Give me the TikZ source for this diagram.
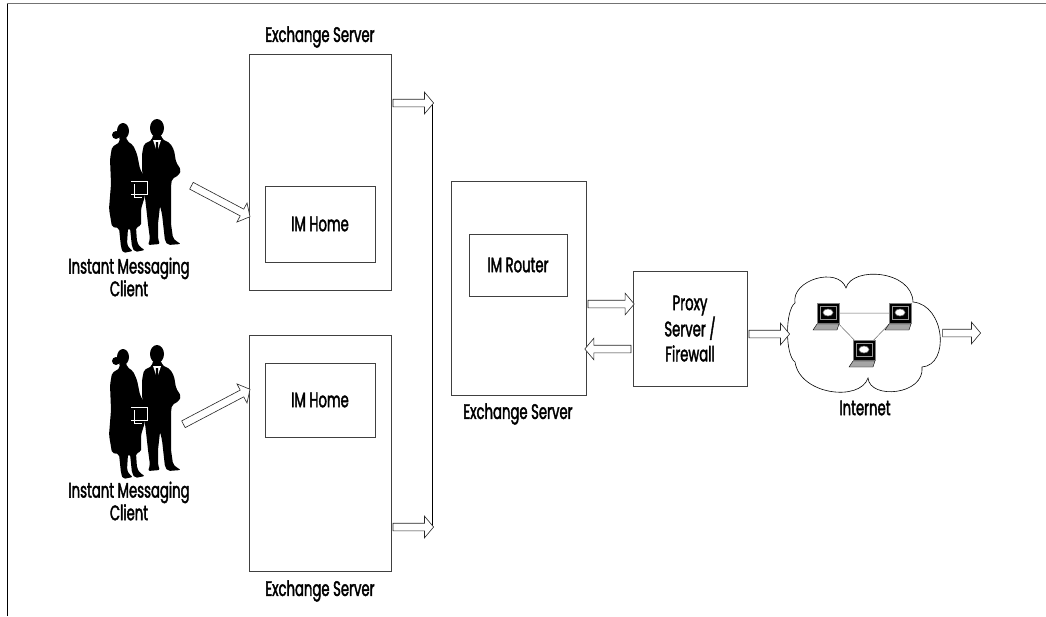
\documentclass[tikz,border=0pt]{standalone}
\usepackage{fontspec}
\setmainfont{Poppins}[FakeStretch=0.63, FakeBold=1.8]
\usetikzlibrary{positioning,calc,shapes.arrows}
\newcommand{\lblfont}{\fontsize{21}{25}\selectfont}
\newcommand{\blockarrow}[2]{%
  \path let \p1=($(#2)-(#1)$), \n1={veclen(\x1,\y1)}, \n2={atan2(\y1,\x1)} in
    node[harrow, minimum height=\n1, rotate=\n2] at ($(#1)!0.5!(#2)$) {};}

\begin{document}
\begin{tikzpicture}[x=1pt, y=-1pt,
        box/.style={draw=black!75, line width=0.8pt, align=center, font=\lblfont},
        server/.style={box, minimum width=142pt, minimum height=236pt},
        imbox/.style={box, minimum width=110pt, minimum height=75pt},
        lbl/.style={font=\lblfont, align=center},
        harrow/.style={single arrow, draw=black!85, line width=0.6pt, fill=white,
            inner xsep=0pt, inner ysep=3.5pt, single arrow head extend=7pt,
            single arrow tip angle=100},
        link/.style={draw=black!60, line width=0.5pt},
        laptop/.pic={
            \draw[black!50, fill=black, line width=0.4pt] (-11,-10) rectangle (11,10);
            \draw[black!40, line width=0.4pt] (-8,-7) rectangle (8,6);
            \draw[black!50, fill=white, line width=0.6pt] (0,-0.5) ellipse [x radius=5pt, y radius=3.5pt];
            \draw[black, fill=black!35, line width=0.4pt] (-11,11) -- (11,11) -- (9,17) -- (-15,17) -- cycle;
        },
        couple/.pic={
            % woman
            \fill (28,17) ellipse [x radius=6pt, y radius=8pt];
            \fill (21,21) circle [radius=4pt];
            \fill[rounded corners=2pt] (24,22) -- (31,22) -- (32,27) -- (38,31) -- (42,40) -- (45,55)
                -- (50,64) -- (50,82) -- (46,95) -- (46,112) -- (41,113) -- (42,128) -- (45,133)
                -- (50,136) -- (40,138) -- (37,133) -- (35,114) -- (33,114) -- (32,130) -- (34,134)
                -- (38,137) -- (28,139) -- (26,133) -- (24,114) -- (17,113) -- (14,95) -- (16,70)
                -- (15,45) -- (17,33) -- (25,28) -- cycle;
            % man
            \fill (62,14) ellipse [x radius=7pt, y radius=9pt];
            \fill[rounded corners=2pt] (58,20) -- (66,20) -- (67,25) -- (75,29) -- (79,36) -- (81,48)
                -- (86,56) -- (84,61) -- (77,65) -- (76,72) -- (76,90) -- (76,110) -- (78,124)
                -- (81,127) -- (86,130) -- (73,131) -- (70,127) -- (67,100) -- (65,92) -- (63,110)
                -- (63,125) -- (65,130) -- (53,131) -- (55,125) -- (53,110) -- (51,92) -- (49,75)
                -- (47,55) -- (47,40) -- (49,30) -- (57,26) -- cycle;
            \fill[white] (58,26) -- (66,26) -- (62,38) -- cycle;
            \fill (61,28) -- (63,28) -- (63.3,37) -- (62,39) -- (60.7,37) -- cycle;
            % folder
            \draw[white, line width=0.5pt] (36,67) -- (52,67) -- (52,80) -- (36,80)
                (39,70) -- (39,83) -- (47,83);
        }
    ]
        \useasboundingbox (0,0) rectangle (1046,616);
        \draw[line width=1pt] (7,616) -- (7,3.5);
        \draw[black!55, line width=1.2pt] (6.5,3.5) -- (1046,3.5);

        % --- Clients ---
        \pic at (95,114) {couple};
        \pic at (95,340) {couple};
        \node[lbl, font=\fontsize{21}{18}\selectfont] (imcTop) at (129,277) {Instant Messaging\\Client};
        \node[lbl, font=\fontsize{21}{18}\selectfont] (imcBot) at (129,501) {Instant Messaging\\Client};
        \coordinate (userTop) at (190,185);
        \coordinate (userBot) at (182,425);

        % --- Exchange servers with IM Home ---
        \node[server] (esTop) at (320,172) {};
        \node[lbl] (esTopLbl) at (320,37) {Exchange Server};
        \node[imbox, minimum height=76pt] (homeTop) at (320,224) {IM Home};
        \node[server] (esBot) at (320,453) {};
        \node[lbl] (esBotLbl) at (320,591) {Exchange Server};
        \node[imbox, minimum height=74pt] (homeBot) at (320,400) {IM Home};

        \coordinate (homeInTop) at ($(esTop.west)+(0,44)$);
        \coordinate (homeInBot) at ($(esBot.west)+(0,-63)$);
        \blockarrow{userTop}{homeInTop}
        \blockarrow{userBot}{homeInBot}

        % bus line
        \coordinate (busTop) at (432,103);
        \coordinate (busBot) at (432,527);
        \draw[line width=1pt] (busTop) -- (busBot);
        \blockarrow{esTop.east |- busTop}{busTop}
        \blockarrow{esBot.east |- busBot}{busBot}

        % --- Exchange server with IM Router ---
        \node[box, minimum width=135pt, minimum height=214pt] (esMid) at (518.5,288) {};
        \node[lbl] (esMidLbl) at (518,414) {Exchange Server};
        \node[box, minimum width=98pt, minimum height=62pt] (router) at (518,265) {IM Router};

        % --- Proxy ---
        \node[box, minimum width=114pt, minimum height=115pt] (proxy) at (690,328.5) {Proxy\\Server /\\Firewall};
        \coordinate (outA) at ($(proxy.west)+(0,-24.5)$);
        \coordinate (inA) at ($(proxy.west)+(0,20.5)$);
        \blockarrow{esMid.east |- outA}{outA}
        \blockarrow{inA}{esMid.east |- inA}

        % --- Internet ---
        \draw[line width=0.6pt] (795,303) .. controls (791,280) and (838,266) .. (846,288)
            .. controls (852,266) and (912,270) .. (913,302)
            .. controls (945,305) and (950,365) .. (922,367)
            .. controls (925,395) and (870,400) .. (868,378)
            .. controls (860,402) and (800,395) .. (795,362)
            .. controls (785,355) and (785,310) .. cycle;
        \node[lbl] (netLbl) at (865,408) {Internet};
        \coordinate (netIn) at (788,334);
        \coordinate (netOut) at (941,333);
        \coordinate (netEnd) at (979,333);
        \coordinate (lapA) at (828,313);
        \coordinate (lapB) at (900,313);
        \coordinate (lapC) at (864,350);
        \draw[link] (lapA) -- (lapB) (lapA) -- (lapC) (lapB) -- (lapC);
        \pic at (lapA) {laptop};
        \pic at (lapB) {laptop};
        \pic at (lapC) {laptop};
        \blockarrow{proxy.east |- netIn}{netIn}
        \blockarrow{netOut}{netEnd}
\end{tikzpicture}
\end{document}
